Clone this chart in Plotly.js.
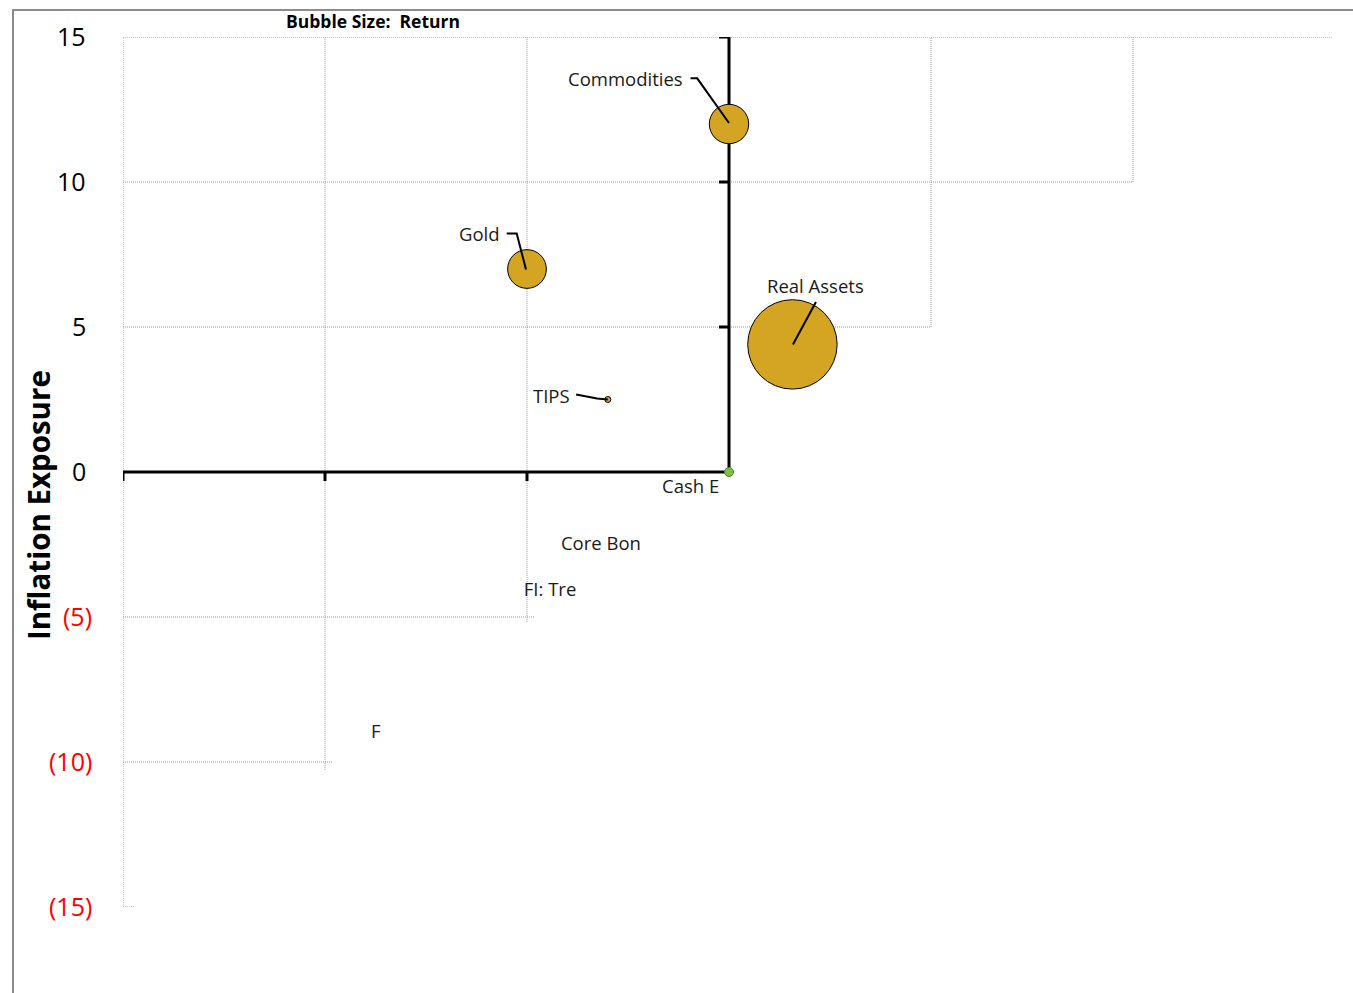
<!DOCTYPE html>
<html>
<head>
<meta charset="utf-8">
<script src="https://cdn.plot.ly/plotly-3.0.1.min.js"></script>
<style>
  html, body { margin: 0; padding: 0; background: #fff; }
  #chart { width: 1353px; height: 993px; }
  #frame { position: absolute; left: 12px; top: 9px; width: 1341px; height: 984px;
           border-left: 2px solid #8c8c8c; border-top: 2px solid #8c8c8c; pointer-events: none; }
</style>
</head>
<body>
<div id="chart"></div>
<div id="frame"></div>
<script>
// ---- data ----
var bubbleNames   = ["Commodities", "Gold", "Real Assets", "TIPS"];
var bubbleX       = [0.0, -5.0, 1.57, -3.0];     // x value
var bubbleY       = [12.0, 7.0, 4.4, 2.5];       // Inflation Exposure
var bubbleReturn  = [1.55, 1.50, 8.0, 0.036];    // Return (bubble size)

var cashName   = ["Cash E"];
var cashX      = [0.0];
var cashY      = [0.0];

var otherNames = ["Core Bon", "FI: Tre", "F"];
var otherX     = [-3.17, -4.43, -8.74];
var otherY     = [-2.52, -4.1, -9.0];

var yTickVals  = [15, 10, 5, 0, -5, -10, -15];
var yTickText  = ["15", "10", "5", "0", "(5)", "(10)", "(15)"];
var xTickVals  = [-15, -10, -5];
var yAxisTicks = [5, 10, 15];

// ---- styling ----
var FONT = "'Open Sans', 'Noto Sans', sans-serif";
var gridStyle = {color: "#9a9a9a", width: 1, dash: "1px,1px"};
var axisStyle = {color: "#000", width: 3};

var shapes = [];
function seg(x0, y0, x1, y1, line) {
  shapes.push({type: "line", xref: "x", yref: "y", x0: x0, y0: y0, x1: x1, y1: y1, line: line, layer: "below"});
}
// stepped dotted grid (as in the original)
seg(-15, -15, -15, 15, gridStyle);
seg(-10, -10.27, -10, 15, gridStyle);
seg(-5, -5.17, -5, 15, gridStyle);
seg(5, 5, 5, 15, gridStyle);
seg(10, 10, 10, 15, gridStyle);
seg(-15, 15, 14.95, 15, gridStyle);
seg(-15, 10, 10, 10, gridStyle);
seg(-15, 5, 5, 5, gridStyle);
seg(-15, -5, -4.8, -5, gridStyle);
seg(-15, -10, -9.8, -10, gridStyle);
seg(-15, -15, -14.7, -15, gridStyle);
// black axes
seg(-15, 0, 0, 0, axisStyle);
seg(0, 0, 0, 15, axisStyle);
xTickVals.forEach(function (v) {
  shapes.push({type: "line", xref: "x", yref: "y", ysizemode: "pixel", yanchor: 0,
    x0: v, x1: v, y0: 1, y1: -9, line: axisStyle, layer: "below"});
});
yAxisTicks.forEach(function (v) {
  shapes.push({type: "line", xref: "x", yref: "y", xsizemode: "pixel", xanchor: 0,
    y0: v, y1: v, x0: 1, x1: -10, line: axisStyle, layer: "below"});
});

var annotations = [];
// y tick labels
yTickVals.forEach(function (v, i) {
  annotations.push({xref: "paper", yref: "y", x: 0, y: v, xanchor: "right", yanchor: "middle",
    xshift: v < 0 ? -29 : -35, yshift: 1, showarrow: false, text: yTickText[i],
    font: {family: FONT, size: 25, color: v < 0 ? "#ff0000" : "#000000"}});
});
// title and axis title
annotations.push({xref: "paper", yref: "paper", x: (373 - 123) / 1212, y: 1, yshift: 16,
  xanchor: "center", yanchor: "middle", showarrow: false,
  text: "<b>Bubble Size:\u00a0 Return</b>", font: {family: FONT, size: 17.5, color: "#000"}});
annotations.push({xref: "paper", yref: "paper", x: 0, y: 0.462, xshift: -85,
  xanchor: "center", yanchor: "middle", showarrow: false, textangle: -90,
  text: "<b>Inflation Exposure</b>", font: {family: FONT, size: 29.5, color: "#000"}});

// bubble labels (pixel offsets from their point) and elbow leader lines
var labelShift = [[-103.5, 46], [-48, 36], [23.5, 58.5], [-56.7, 4]];
var leaderPaths = [
  "M -38.5 45.7 L -31.8 45.7 L 0 1",
  "M -20.3 35.5 L -10.3 35.5 L -1 -0.5",
  "M 23.5 42.5 L 0.5 0",
  "M -31.7 5 L -10.7 1 L 0 0"
];
bubbleNames.forEach(function (n, i) {
  annotations.push({xref: "x", yref: "y", x: bubbleX[i], y: bubbleY[i], text: n,
    showarrow: false, xshift: labelShift[i][0], yshift: labelShift[i][1],
    font: {family: FONT, size: 18.5, color: "#1a1a1a"}});
  shapes.push({type: "path", xref: "x", yref: "y", xsizemode: "pixel", ysizemode: "pixel",
    xanchor: bubbleX[i], yanchor: bubbleY[i], path: leaderPaths[i],
    line: {color: "#000", width: 2}, layer: "above"});
});
annotations.push({xref: "x", yref: "y", x: cashX[0], y: cashY[0], text: cashName[0],
  showarrow: false, xshift: -39, yshift: -13, font: {family: FONT, size: 18.5, color: "#1a1a1a"}});

var traces = [
  {type: "scatter", mode: "markers", x: bubbleX, y: bubbleY, text: bubbleNames,
   marker: {size: bubbleReturn, sizemode: "area", sizeref: 0.002, color: "#D4A423",
            line: {color: "#000", width: 1}, opacity: 1},
   hoverinfo: "text"},
  {type: "scatter", mode: "markers", x: cashX, y: cashY, text: cashName,
   marker: {size: 9, color: "#7cc143", line: {color: "#4f7f2a", width: 1}}, hoverinfo: "text"},
  {type: "scatter", mode: "text", x: otherX, y: otherY, text: otherNames,
   textfont: {family: FONT, size: 18.5, color: "#1a1a1a"}, hoverinfo: "text"}
];

var layout = {
  width: 1353, height: 993,
  margin: {l: 123, r: 18, t: 37, b: 86},
  paper_bgcolor: "#fff", plot_bgcolor: "#fff",
  showlegend: false,
  xaxis: {range: [-15, 15], showgrid: false, zeroline: false, showticklabels: false, showline: false, ticks: ""},
  yaxis: {range: [-15, 15], showgrid: false, zeroline: false, showticklabels: false, showline: false, ticks: ""},
  shapes: shapes,
  annotations: annotations
};

Plotly.newPlot("chart", traces, layout, {displayModeBar: false, staticPlot: true});
</script>
</body>
</html>
